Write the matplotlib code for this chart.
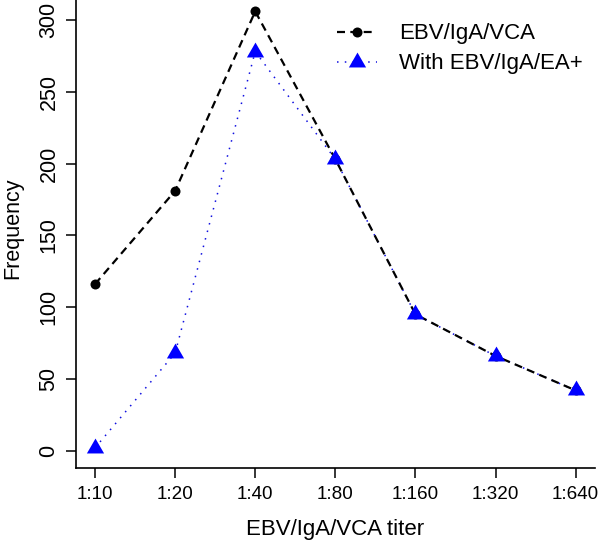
import matplotlib
matplotlib.use("Agg")
import matplotlib.pyplot as plt
from matplotlib.path import Path
from matplotlib.lines import Line2D
import numpy as np

plt.rcParams['font.family'] = ['Liberation Sans', 'DejaVu Sans']

titers = ["1:10", "1:20", "1:40", "1:80", "1:160", "1:320", "1:640"]
vca = [116, 181, 306, 203, 95, 66, 42]
ea_pos = [2, 68, 278, 203, 95, 66, 42]
yticks = [0, 50, 100, 150, 200, 250, 300]

tri = Path([(0, 1), (0.866, -0.5), (-0.866, -0.5), (0, 1)],
           [Path.MOVETO, Path.LINETO, Path.LINETO, Path.CLOSEPOLY])

fig = plt.figure(figsize=(6.0, 5.43), dpi=100)
ax = fig.add_axes([0.1263, 0.1376, 0.8652, 0.8738])

x = np.arange(1, len(titers) + 1)

ax.plot(x, ea_pos, linestyle=(0, (1, 4.1)), color='#1010E0', lw=1.1, zorder=2)
ax.plot(x, vca, linestyle=(0, (3.6, 2.4)), color='black', lw=1.6, zorder=3,
        marker='o', markersize=7.2, markerfacecolor='black', markeredgewidth=0)
ax.plot(x, ea_pos, linestyle='none', marker=tri, markersize=14.3,
        color='blue', markeredgewidth=0, zorder=4)

ax.set_xlim(0.76, 7.24)
ax.set_ylim(-12.24, 318.24)
ax.set_xticks(x)
ax.set_xticklabels(titers)
ax.set_yticks(yticks)
ax.set_yticklabels([str(v) for v in yticks], rotation=90, va='center')

for s in ['top', 'right']:
    ax.spines[s].set_visible(False)
for s in ['left', 'bottom']:
    ax.spines[s].set_linewidth(1.2)

ax.tick_params(axis='both', length=7, width=1.1, direction='out')
ax.tick_params(axis='x', pad=5.5, labelsize=13.6)
ax.tick_params(axis='y', pad=4.7, labelsize=15.5)

ax.set_xlabel("EBV/IgA/VCA titer", fontsize=16)
ax.xaxis.set_label_coords(0.5, -0.1068)
ax.set_ylabel("Frequency", fontsize=15.5)
ax.yaxis.set_label_coords((23 - 75.8) / 519.1, 0.5064)

h1 = Line2D([], [], linestyle=(0, (3.6, 2.4)), color='black', lw=1.6,
            marker='o', markersize=7.2, markerfacecolor='black', markeredgewidth=0)
h2 = Line2D([], [], linestyle=(0, (1, 4.1)), color='#1010E0', lw=1.1,
            marker=tri, markersize=14.3, markerfacecolor='blue', markeredgewidth=0)
leg = fig.legend([h1, h2], ["EBV/IgA/VCA", "With EBV/IgA/EA+"],
                 loc='upper left', bbox_to_anchor=(336.7 / 600, 1 - 23.5 / 543),
                 frameon=False, fontsize=16, handlelength=1.8, handletextpad=1.0,
                 borderpad=0, borderaxespad=0, labelspacing=0.4, numpoints=1)

fig.savefig("out.png", dpi=100)
